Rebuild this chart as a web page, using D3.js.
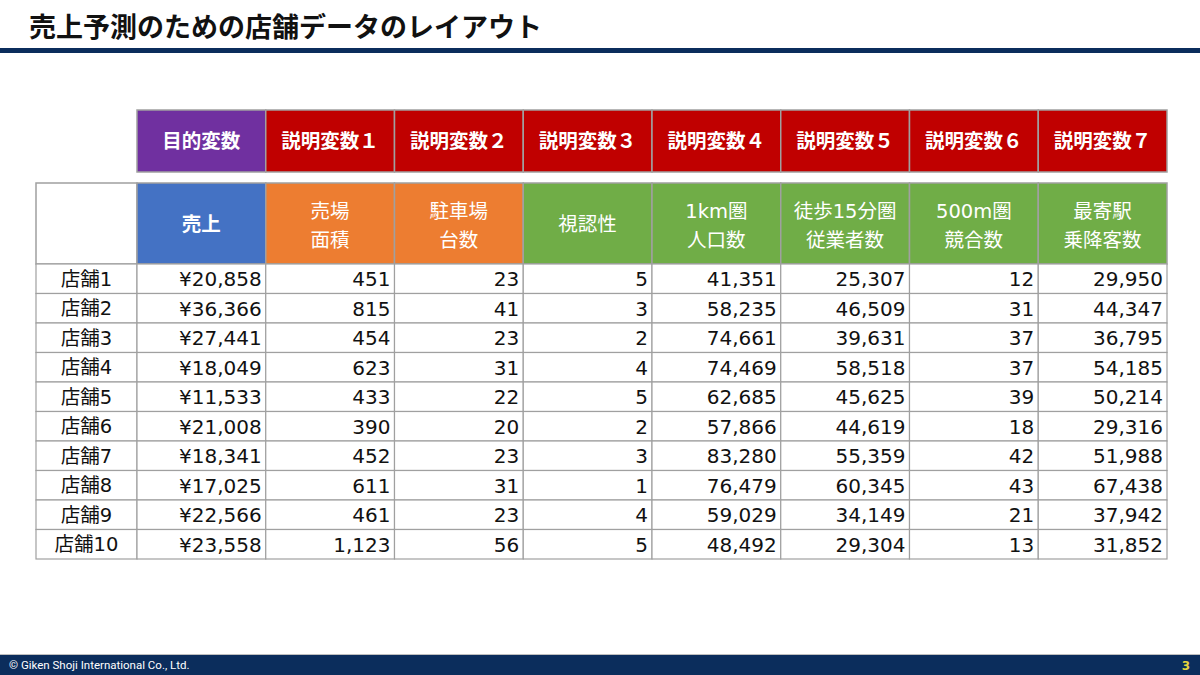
<!DOCTYPE html>
<html lang="ja">
<head>
<meta charset="utf-8">
<script src="https://cdn.jsdelivr.net/npm/d3@7"></script>
<style>
  body { margin: 0; background: #fff; }
  svg { display: block; font-family: "DejaVu Sans", "Noto Sans CJK JP", sans-serif; }
</style>
</head>
<body>
<svg id="chart" width="1200" height="675"></svg>
<script>
// --- data ---
const roleLabels = ['目的変数', '説明変数１', '説明変数２', '説明変数３', '説明変数４', '説明変数５', '説明変数６', '説明変数７'];
const varLabels = [['売上'], ['売場', '面積'], ['駐車場', '台数'], ['視認性'], ['1km圏', '人口数'], ['徒歩15分圏', '従業者数'], ['500m圏', '競合数'], ['最寄駅', '乗降客数']];
const stores = ['店舗1', '店舗2', '店舗3', '店舗4', '店舗5', '店舗6', '店舗7', '店舗8', '店舗9', '店舗10'];
const sales = [20858, 36366, 27441, 18049, 11533, 21008, 18341, 17025, 22566, 23558];
const floorArea = [451, 815, 454, 623, 433, 390, 452, 611, 461, 1123];
const parking = [23, 41, 23, 31, 22, 20, 23, 31, 23, 56];
const visibility = [5, 3, 2, 4, 5, 2, 3, 1, 4, 5];
const pop1km = [41351, 58235, 74661, 74469, 62685, 57866, 83280, 76479, 59029, 48492];
const workers15 = [25307, 46509, 39631, 58518, 45625, 44619, 55359, 60345, 34149, 29304];
const rivals500 = [12, 31, 37, 37, 39, 18, 42, 43, 21, 13];
const stationPax = [29950, 44347, 36795, 54185, 50214, 29316, 51988, 67438, 37942, 31852];

const columns = [sales, floorArea, parking, visibility, pop1km, workers15, rivals500, stationPax];
const roleColor = i => i === 0 ? '#7030a0' : '#c00000';
const varColor = ['#4472c4', '#ed7d31', '#ed7d31', '#70ad47', '#70ad47', '#70ad47', '#70ad47', '#70ad47'];

const svg = d3.select('#chart');
const W = 1200, H = 675;

// title + rules
svg.append('text').attr('x', 29).attr('y', 37)
  .attr('font-family', '"Noto Sans CJK JP", sans-serif')
  .attr('font-size', 27).attr('font-weight', 'bold').attr('fill', '#111')
  .text('売上予測のための店舗データのレイアウト');
svg.append('rect').attr('x', 0).attr('y', 48).attr('width', W).attr('height', 5).attr('fill', '#0b2d5c');

// footer
svg.append('rect').attr('x', 0).attr('y', 654).attr('width', W).attr('height', 1).attr('fill', '#bfbfbf');
svg.append('rect').attr('x', 0).attr('y', 655).attr('width', W).attr('height', 20).attr('fill', '#0b2d5c');
svg.append('text').attr('x', 9).attr('y', 669).attr('font-size', 11.5).attr('fill', '#fff')
  .attr('font-family', 'Roboto, "Noto Sans", sans-serif')
  .text('© Giken Shoji International Co., Ltd.');
svg.append('text').attr('x', 1190).attr('y', 670).attr('text-anchor', 'end')
  .attr('font-size', 12).attr('font-weight', 'bold').attr('fill', '#e6d33c').text('3');

// --- scales ---
const x = d3.scaleBand().domain(d3.range(columns.length)).range([137, 1167]);
const labelX = [36, 137];
const rowY = d3.scaleBand().domain(stores).range([264, 559]);
const fmtNum = d3.format(',');
const border = '#a0a0a0';

// role header row
const g1 = svg.append('g');
g1.selectAll('rect').data(roleLabels).join('rect')
  .attr('x', (d, i) => x(i)).attr('y', 110)
  .attr('width', x.bandwidth()).attr('height', 62)
  .attr('fill', (d, i) => roleColor(i)).attr('stroke', border).attr('stroke-width', 1.5);
g1.selectAll('text').data(roleLabels).join('text')
  .attr('x', (d, i) => x(i) + x.bandwidth() / 2).attr('y', 148)
  .attr('font-family', '"Noto Sans CJK JP", sans-serif')
  .attr('text-anchor', 'middle').attr('font-size', 19.5).attr('font-weight', 'bold').attr('fill', '#fff')
  .text(d => d);

// variable header row
const g2 = svg.append('g');
g2.append('rect').attr('x', labelX[0]).attr('y', 183).attr('width', labelX[1] - labelX[0]).attr('height', 81)
  .attr('fill', '#fff').attr('stroke', border).attr('stroke-width', 1.5);
g2.selectAll('rect.v').data(varLabels).join('rect').attr('class', 'v')
  .attr('x', (d, i) => x(i)).attr('y', 183)
  .attr('width', x.bandwidth()).attr('height', 81)
  .attr('fill', (d, i) => varColor[i]).attr('stroke', border).attr('stroke-width', 1.5);
g2.selectAll('text').data(varLabels).join('text')
  .attr('x', (d, i) => x(i) + x.bandwidth() / 2)
  .attr('text-anchor', 'middle').attr('font-size', 19.5).attr('fill', '#fff')
  .attr('font-weight', (d, i) => i === 0 ? 'bold' : 'normal')
  .each(function (d) {
    const t = d3.select(this);
    const y0 = d.length === 1 ? 231 : 218;
    d.forEach((line, k) => t.append('tspan').attr('x', t.attr('x')).attr('y', y0 + k * 29).text(line));
  });

// data rows
const body = svg.append('g');
const rows = body.selectAll('g.row').data(stores).join('g').attr('class', 'row')
  .attr('transform', d => `translate(0,${rowY(d)})`);
rows.append('rect').attr('x', labelX[0]).attr('width', labelX[1] - labelX[0]).attr('height', rowY.bandwidth())
  .attr('fill', '#fff').attr('stroke', border).attr('stroke-width', 1.2);
rows.append('text').attr('x', (labelX[0] + labelX[1]) / 2).attr('y', rowY.bandwidth() / 2 + 7)
  .attr('text-anchor', 'middle').attr('font-size', 19.5).attr('fill', '#111').text(d => d);
rows.each(function (s, r) {
  const row = d3.select(this);
  row.selectAll('rect.c').data(columns).join('rect').attr('class', 'c')
    .attr('x', (d, i) => x(i)).attr('width', x.bandwidth()).attr('height', rowY.bandwidth())
    .attr('fill', '#fff').attr('stroke', border).attr('stroke-width', 1.2);
  row.selectAll('text.c').data(columns).join('text').attr('class', 'c')
    .attr('x', (d, i) => x(i) + x.bandwidth() - 4).attr('y', rowY.bandwidth() / 2 + 7.5)
    .attr('text-anchor', 'end').attr('font-size', 20).attr('fill', '#111')
    .text((d, i) => (i === 0 ? '¥' : '') + fmtNum(d[r]));
});
</script>
</body>
</html>
